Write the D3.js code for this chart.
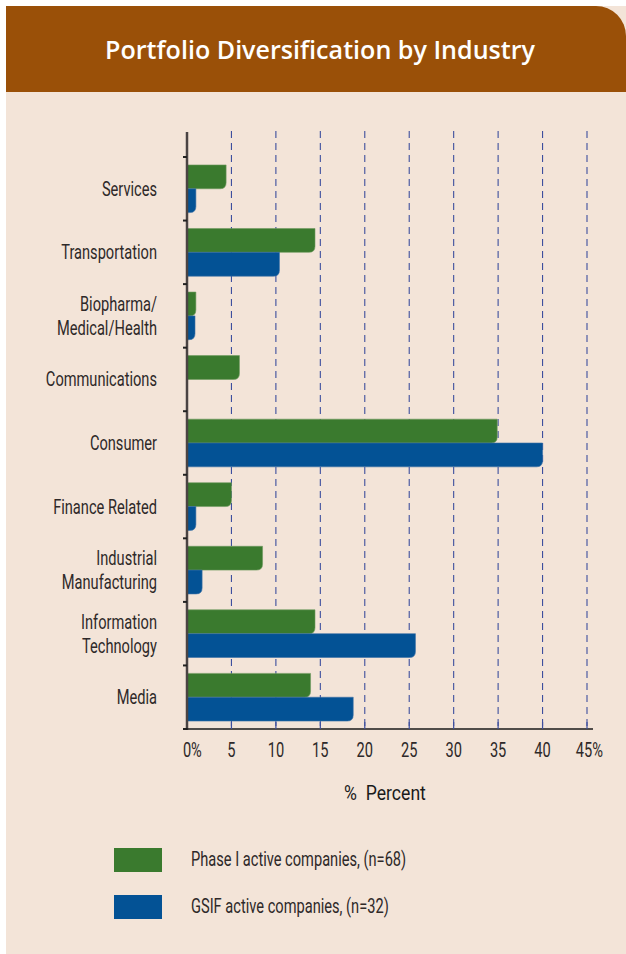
<!DOCTYPE html>
<html>
<head>
<meta charset="utf-8">
<script src="https://cdn.jsdelivr.net/npm/d3@7"></script>
<style>
  html, body { margin: 0; padding: 0; background: #ffffff; }
  svg { display: block; }
  .cond { font-family: Roboto, "Noto Sans", sans-serif; }
</style>
</head>
<body>
<script>
// ---- data ----
const categories = ["Services", "Transportation", "Biopharma/\nMedical/Health", "Communications", "Consumer", "Finance Related", "Industrial\nManufacturing", "Information\nTechnology", "Media"];
const phaseI = [4.4, 14.4, 1.0, 5.9, 34.9, 5.0, 8.5, 14.4, 13.9];
const gsif   = [1.0, 10.4, 0.9, 0, 40.0, 1.0, 1.7, 25.7, 18.7];
const seriesNames = ["Phase I active companies, (n=68)", "GSIF active companies, (n=32)"];
const xTicks = [0, 5, 10, 15, 20, 25, 30, 35, 40, 45];
const title = "Portfolio Diversification by Industry";
const axisTitle = "%  Percent";

const W = 626, H = 954;
const colors = ["#3a7a2e", "#035295"];
const COND = 0.75; // horizontal condensing for a condensed-font look
const FS = 19.5;

const svg = d3.select("body").append("svg").attr("width", W).attr("height", H);

function condense(sel, f) {
  sel.each(function () {
    const w = this.getComputedTextLength();
    d3.select(this).attr("textLength", w * f).attr("lengthAdjust", "spacingAndGlyphs");
  });
  return sel;
}

// panel
svg.append("rect").attr("x", 6).attr("y", 6).attr("width", W - 6).attr("height", H - 6).attr("fill", "#f3e4d8");
const r = 30;
svg.append("path")
  .attr("d", `M6,92 L6,6 L${W - r},6 A${r},${r} 0 0 1 ${W},${6 + r} L${W},92 Z`)
  .attr("fill", "#9a5008");
const tt = svg.append("text").attr("x", 320).attr("y", 59).attr("text-anchor", "middle")
  .attr("fill", "#ffffff").attr("font-family", "'Open Sans', sans-serif").attr("font-weight", 600)
  .attr("font-size", 25).text(title);
tt.attr("textLength", 430).attr("lengthAdjust", "spacingAndGlyphs");

// scales
const x = d3.scaleLinear().domain([0, 45]).range([187, 587]);
const y = d3.scaleBand().domain(categories).range([157, 729]).paddingInner(0).paddingOuter(0);
const sub = d3.scaleBand().domain([0, 1]).range([0, y.bandwidth()]).paddingInner(0).paddingOuter(0.333);

// gridlines
const g = svg.append("g");
g.selectAll("line.grid").data(xTicks.filter(d => d > 0)).join("line")
  .attr("x1", d => x(d)).attr("x2", d => x(d))
  .attr("y1", 131).attr("y2", 729)
  .attr("stroke", "#3d4f9e").attr("stroke-width", 1.1).attr("stroke-dasharray", "7,5");

// bars
function barPath(x0, y0, w, h, rad) {
  if (w <= 0) return "";
  const rr = Math.min(rad, w, h);
  return `M${x0},${y0} L${x0 + w},${y0} L${x0 + w},${y0 + h - rr} Q${x0 + w},${y0 + h} ${x0 + w - rr},${y0 + h} L${x0},${y0 + h} Z`;
}
const barData = [];
categories.forEach((c, i) => {
  barData.push({ c, s: 0, v: phaseI[i] });
  barData.push({ c, s: 1, v: gsif[i] });
});
g.selectAll("path.bar").data(barData).join("path")
  .attr("d", d => barPath(x(0), y(d.c) + sub(d.s), x(d.v) - x(0), sub.bandwidth(), 6))
  .attr("fill", d => colors[d.s])
  .attr("stroke", d => d.s === 0 ? "#6f9a5f" : "#3c70a6").attr("stroke-width", 0.6);

// y axis
const yAxisG = svg.append("g");
yAxisG.append("line").attr("x1", 187).attr("x2", 187).attr("y1", 132).attr("y2", 730)
  .attr("stroke", "#4a4343").attr("stroke-width", 2.5);
const bounds = categories.map(c => y(c)).concat([y.range()[1]]);
yAxisG.selectAll("line.tk").data(bounds).join("line")
  .attr("x1", 183).attr("x2", 187).attr("y1", d => d).attr("y2", d => d)
  .attr("stroke", "#222").attr("stroke-width", 2);

// category labels
const labG = svg.append("g").attr("class", "cond");
categories.forEach(c => {
  const lines = c.split("\n");
  const cy = y(c) + y.bandwidth() / 2;
  const lh = 24;
  lines.forEach((ln, k) => {
    labG.append("text").attr("text-anchor", "end").attr("font-size", FS).attr("fill", "#2e2929")
      .attr("x", 157)
      .attr("y", cy + (k - (lines.length - 1) / 2) * lh + 7)
      .text(ln);
  });
});
condense(labG.selectAll("text"), COND);

// x axis
const xAxisG = svg.append("g");
xAxisG.append("line").attr("x1", 186).attr("x2", 593).attr("y1", 729).attr("y2", 729)
  .attr("stroke", "#1a1a1a").attr("stroke-width", 1.6);
xAxisG.selectAll("line.xt").data(xTicks.filter(d => d > 0)).join("line")
  .attr("x1", d => x(d)).attr("x2", d => x(d)).attr("y1", 722).attr("y2", 729)
  .attr("stroke", "#3d4f9e").attr("stroke-width", 1.2);
const tl = xAxisG.selectAll("g.tl").data(xTicks).join("g").attr("class", "cond");
tl.each(function (d, i) {
  const gg = d3.select(this);
  const edge = (i === 0 || i === xTicks.length - 1);
  const t = gg.append("text").attr("y", 757).attr("font-size", FS).attr("fill", "#2e2929").text(d);
  const numW = t.node().getComputedTextLength() * COND;
  const cx = x(d) - (i === xTicks.length - 1 ? 3 : 0);
  if (edge) {
    t.text(d + "%").attr("text-anchor", "start").attr("x", cx - numW / 2);
  } else {
    t.attr("text-anchor", "middle").attr("x", cx);
  }
  condense(t, COND);
});
const at = svg.append("text").attr("class", "cond").attr("x", 385).attr("y", 800).attr("text-anchor", "middle")
  .attr("font-size", 20).attr("fill", "#1a1a1a").style("white-space", "pre").text(axisTitle);
condense(at, 0.88);

// legend
const leg = svg.append("g");
seriesNames.forEach((n, i) => {
  leg.append("rect").attr("x", 114).attr("y", 848 + i * 47).attr("width", 48).attr("height", 24).attr("fill", colors[i]);
  const lt = leg.append("text").attr("class", "cond").attr("x", 191).attr("y", 866 + i * 47)
    .attr("font-size", FS).attr("fill", "#2e2929").text(n);
  condense(lt, COND);
});
</script>
</body>
</html>
